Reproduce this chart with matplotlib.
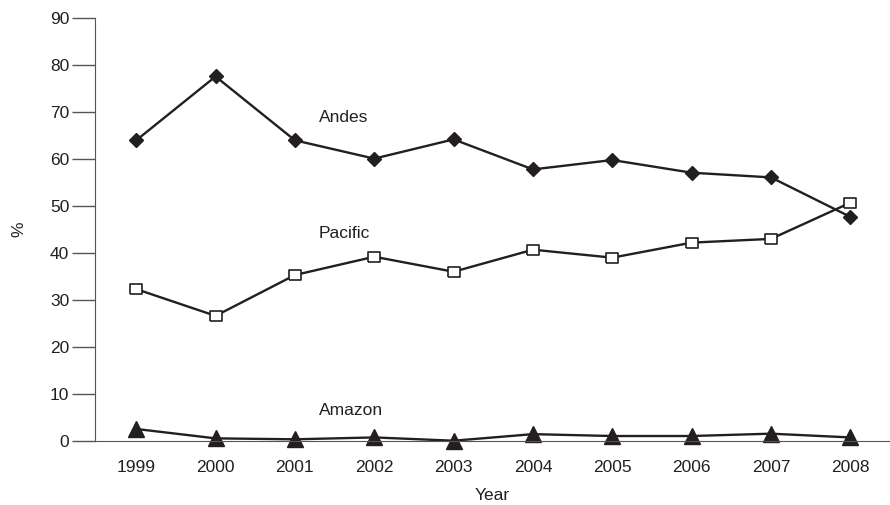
import matplotlib
matplotlib.use("Agg")
import matplotlib.pyplot as plt

years = [1999, 2000, 2001, 2002, 2003, 2004, 2005, 2006, 2007, 2008]
andes = [64.0, 77.6, 64.0, 60.1, 64.2, 57.8, 59.8, 57.1, 56.1, 47.7]
pacific = [32.3, 26.6, 35.3, 39.2, 36.0, 40.7, 39.0, 42.2, 43.0, 50.7]
amazon = [2.5, 0.5, 0.3, 0.7, 0.0, 1.4, 1.0, 1.0, 1.5, 0.7]
yticks = list(range(0, 100, 10))

INK = "#231f20"
plt.rcParams["font.family"] = ["Liberation Sans", "DejaVu Sans"]

# slightly wide open box, as in the print original
box = [(-1, -0.75), (1, -0.75), (1, 0.75), (-1, 0.75), (-1, -0.75)]

fig = plt.figure(figsize=(8.9, 5.05), dpi=100)
ax = fig.add_axes([0.1067, 0.1273, 0.8933, 0.8365])

ax.plot(years, andes, color=INK, lw=1.7, marker="D", ms=7.5, mfc=INK, mec=INK)
ax.plot(years, pacific, color=INK, lw=1.7, marker=box, ms=9, mfc="white",
        mec=INK, mew=1.2)
ax.plot(years, amazon, color=INK, lw=1.7, marker="^", ms=12, mfc=INK, mec=INK,
        clip_on=False)

ax.text(2001.3, 68.8, "Andes", fontsize=12.5, color=INK, va="center")
ax.text(2001.3, 44.2, "Pacific", fontsize=12.5, color=INK, va="center")
ax.text(2001.3, 6.5, "Amazon", fontsize=12.5, color=INK, va="center")

ax.set_xlim(1998.48, 2008.5)
ax.set_ylim(0, 90)
ax.set_xticks(years)
ax.set_yticks(yticks)
ax.tick_params(axis="x", length=0, pad=14, labelsize=12.5, colors=INK)
ax.tick_params(axis="y", length=16.5, width=1, pad=2, labelsize=12.5,
               colors=INK, color="#555555")
ax.spines["top"].set_visible(False)
ax.spines["right"].set_visible(False)
ax.spines["left"].set_color("#555555")
ax.spines["bottom"].set_color("#555555")
ax.set_ylabel("%", fontsize=12.5, color=INK, labelpad=17)
ax.set_xlabel("Year", fontsize=12.5, color=INK, labelpad=9)

fig.savefig("out.png", dpi=100)
